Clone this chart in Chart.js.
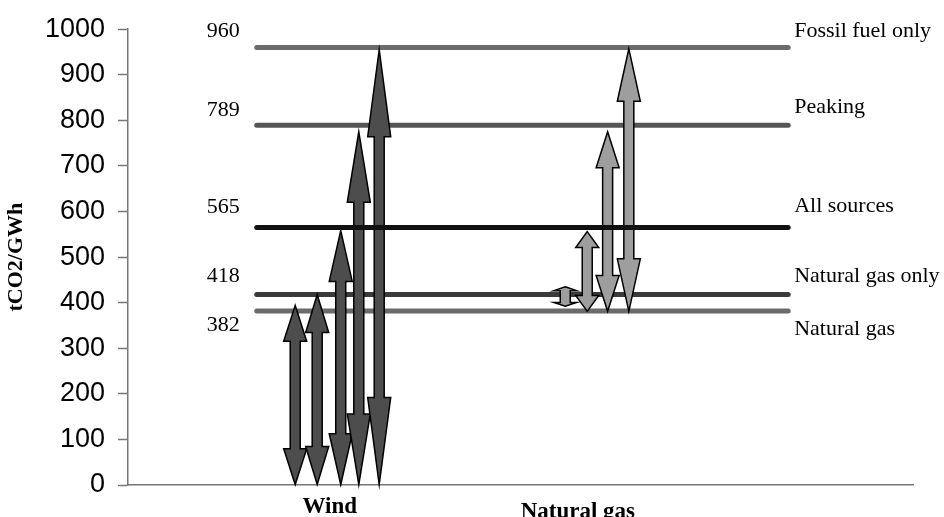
<!DOCTYPE html>
<html>
<head>
<meta charset="utf-8">
<script src="https://cdn.jsdelivr.net/npm/chart.js@4.4.1/dist/chart.umd.min.js"></script>
<style>
  html, body { margin: 0; padding: 0; background: #fff; }
</style>
</head>
<body>
<canvas id="emissions" width="944" height="517"></canvas>
<script>
// reference levels (tCO2/GWh)
const levelValues = [960, 789, 565, 418, 382];
const levelNames = ['Fossil fuel only', 'Peaking', 'All sources', 'Natural gas only', 'Natural gas'];
const levelSpan = [16.4, 84.1];

const categories = ['Wind', 'Natural gas'];
const categoryX = [25.7, 57.3];

// wind arrows
const windX = [21.3, 24.1, 27.1, 29.4, 32.0];
const windLow = [0, 0, 0, 0, 0];
const windHigh = [394, 418, 558, 775, 955];

// natural gas arrows
const gasX = [55.7, 58.5, 61.1, 63.8];
const gasLow = [392, 381, 381, 381];
const gasHigh = [435, 556, 775, 957];

const yTicks = [0, 100, 200, 300, 400, 500, 600, 700, 800, 900, 1000];

const levelColors = ['#6b6b6b', '#555555', '#111111', '#3a3a3a', '#6b6b6b'];
const leftDy = [-10, -9, -14, -12, 20];
const rightDy = [-10, -12, -15, -12, 24];

function drawArrow(ctx, x, top, bottom, fill) {
  const head = (bottom - top) * 0.2;
  const hw = 11.5, sw = 5;
  ctx.beginPath();
  ctx.moveTo(x, top);
  ctx.lineTo(x + hw, top + head);
  ctx.lineTo(x + sw, top + head);
  ctx.lineTo(x + sw, bottom - head);
  ctx.lineTo(x + hw, bottom - head);
  ctx.lineTo(x, bottom);
  ctx.lineTo(x - hw, bottom - head);
  ctx.lineTo(x - sw, bottom - head);
  ctx.lineTo(x - sw, top + head);
  ctx.lineTo(x - hw, top + head);
  ctx.closePath();
  ctx.fillStyle = fill;
  ctx.fill();
  ctx.lineWidth = 1.5;
  ctx.strokeStyle = '#000';
  ctx.stroke();
}

const arrowPlugin = {
  id: 'arrows',
  afterDatasetDraw(chart, args) {
    const ds = chart.data.datasets[args.index];
    if (!ds.arrowFill) return;
    const ctx = chart.ctx;
    ctx.save();
    args.meta.data.forEach(bar => {
      const top = Math.min(bar.y, bar.base);
      const bottom = Math.max(bar.y, bar.base);
      drawArrow(ctx, bar.x, top, bottom, ds.arrowFill);
    });
    ctx.restore();
  }
};

const labelPlugin = {
  id: 'levelLabels',
  afterDraw(chart) {
    const ctx = chart.ctx;
    const xs = chart.scales.x, ys = chart.scales.y;
    ctx.save();
    ctx.fillStyle = '#000';
    ctx.textBaseline = 'alphabetic';
    ctx.font = '22px "Liberation Serif"';
    levelValues.forEach((v, i) => {
      const py = ys.getPixelForValue(v);
      ctx.textAlign = 'right';
      ctx.fillText(String(v), xs.getPixelForValue(levelSpan[0]) - 17, py + leftDy[i]);
      ctx.textAlign = 'left';
      ctx.fillText(levelNames[i], xs.getPixelForValue(levelSpan[1]) + 6, py + rightDy[i]);
    });
    ctx.font = 'bold 23px "Liberation Serif"';
    ctx.textAlign = 'center';
    const bottom = chart.chartArea.bottom;
    categories.forEach((c, i) => {
      ctx.fillText(c, xs.getPixelForValue(categoryX[i]), bottom + 28 + i * 5);
    });
    ctx.restore();
  }
};

const datasets = [];
levelValues.forEach((v, i) => {
  datasets.push({
    type: 'line',
    label: levelNames[i],
    data: [{ x: levelSpan[0], y: v }, { x: levelSpan[1], y: v }],
    borderColor: levelColors[i],
    borderWidth: 5,
    borderCapStyle: 'round',
    pointRadius: 0,
    order: v === 565 ? 1 : 3
  });
});
datasets.push({
  type: 'bar',
  label: 'Wind',
  data: windX.map((x, i) => ({ x: x, y: [windLow[i], windHigh[i]] })),
  backgroundColor: 'rgba(0,0,0,0)',
  borderWidth: 0,
  barThickness: 10,
  grouped: false,
  arrowFill: '#4d4d4d',
  order: 2
});
datasets.push({
  type: 'bar',
  label: 'Natural gas',
  data: gasX.map((x, i) => ({ x: x, y: [gasLow[i], gasHigh[i]] })),
  backgroundColor: 'rgba(0,0,0,0)',
  borderWidth: 0,
  barThickness: 10,
  grouped: false,
  arrowFill: '#9e9e9e',
  order: 2
});

new Chart(document.getElementById('emissions').getContext('2d'), {
  type: 'line',
  data: { datasets: datasets },
  options: {
    responsive: false,
    animation: false,
    layout: { padding: { left: 0, top: 23, right: 31, bottom: 0 } },
    plugins: {
      legend: { display: false },
      tooltip: { enabled: false }
    },
    scales: {
      x: {
        type: 'linear',
        min: 0,
        max: 100,
        offset: false,
        grid: { display: true, offset: false, drawOnChartArea: false, drawTicks: false },
        ticks: { display: false },
        border: { display: true, color: '#777', width: 1.5 },
        afterFit(scale) { scale.height = 32; }
      },
      y: {
        type: 'linear',
        min: 0,
        max: 1000,
        afterBuildTicks(scale) { scale.ticks = yTicks.map(v => ({ value: v })); },
        ticks: {
          font: { family: 'Liberation Sans', size: 27 },
          color: '#000',
          padding: 13,
          callback: v => String(v)
        },
        grid: { drawOnChartArea: false, drawTicks: true, tickLength: 10, color: '#777', tickWidth: 1.5 },
        border: { display: true, color: '#777', width: 1.5 },
        title: {
          display: true,
          text: 'tCO2/GWh',
          color: '#000',
          padding: { top: 3, bottom: 4 },
          font: { family: 'Liberation Serif', size: 22, weight: 'bold' }
        },
        afterFit(scale) { scale.width = 128; }
      }
    }
  },
  plugins: [arrowPlugin, labelPlugin]
});
</script>
</body>
</html>
